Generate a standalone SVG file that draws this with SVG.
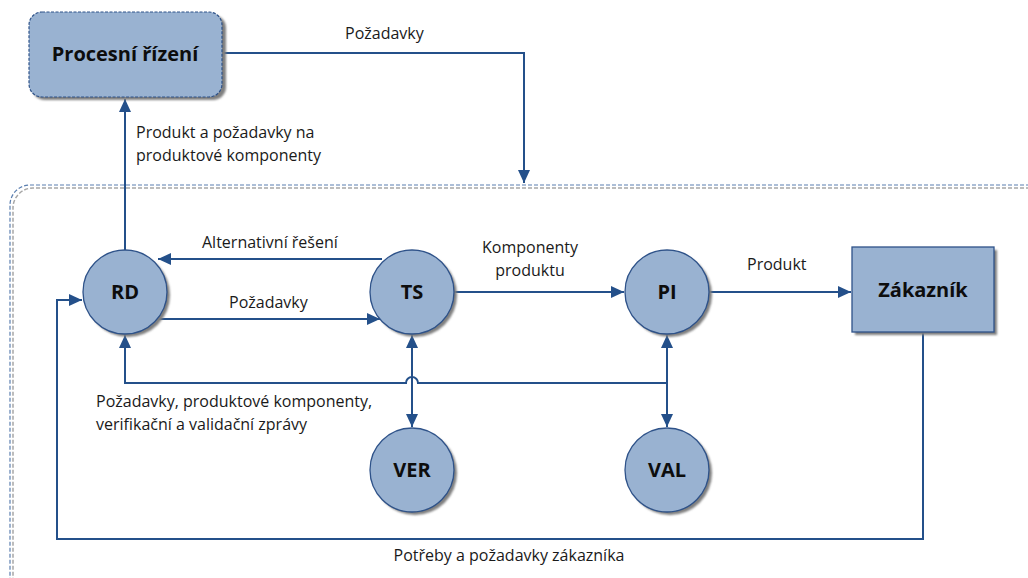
<svg xmlns="http://www.w3.org/2000/svg" width="1028" height="578" viewBox="0 0 1028 578">
<defs>
<marker id="arr" viewBox="0 0 10 10" refX="10" refY="5" markerWidth="13" markerHeight="12" markerUnits="userSpaceOnUse" orient="auto-start-reverse" preserveAspectRatio="none">
<path d="M0,0 L10,5 L0,10 z" fill="#24508a"/>
</marker>
<filter id="blur" x="-10%" y="-10%" width="120%" height="120%"><feGaussianBlur stdDeviation="1"/></filter>
</defs>
<style>
.node{fill:#99b2d1;stroke:#2e5289;stroke-width:1.3}
.shadow{fill:#7f7f7f;filter:url(#blur)}
.con{fill:none;stroke:#24508a;stroke-width:2}
.lbl{font-family:"Open Sans","Liberation Sans",sans-serif;font-size:16px;fill:#1a1a1a}
.title{font-family:"Open Sans","Liberation Sans",sans-serif;font-size:20px;font-weight:bold;fill:#0d0d0d;text-anchor:middle}
</style>
<rect width="1028" height="578" fill="#ffffff"/>
<g id="container">
<path d="M1030,188 H33 A20,20 0 0 0 13,208 V580" fill="none" stroke="#a6a6a6" stroke-width="1.5" stroke-dasharray="4,2"/>
<path d="M1030,185 H30 A20,20 0 0 0 10,205 V580" fill="none" stroke="#5b7fb0" stroke-width="1.2" stroke-dasharray="4,2"/>
</g>
<g id="connectors">
<path class="con" d="M125,250 V99" marker-end="url(#arr)"/>
<path class="con" d="M222,53 H524 V183" marker-end="url(#arr)"/>
<path class="con" d="M382,259 H158" marker-end="url(#arr)"/>
<path class="con" d="M157,319 H380" marker-end="url(#arr)"/>
<path class="con" d="M454,292 H624" marker-end="url(#arr)"/>
<path class="con" d="M709,292 H851" marker-end="url(#arr)"/>
<path class="con" d="M923,332 V539 H57 V300 H82" marker-end="url(#arr)"/>
<path class="con" d="M667,383 H418 A6,6 0 0 0 406,383 H125 V335" marker-end="url(#arr)"/>
<path class="con" d="M412,335 V427" marker-start="url(#arr)" marker-end="url(#arr)"/>
<path class="con" d="M667,335 V427" marker-start="url(#arr)" marker-end="url(#arr)"/>
</g>
<g id="labels">
<text class="lbl" x="345" y="39">Požadavky</text>
<text class="lbl" x="136" y="138">Produkt a požadavky na</text>
<text class="lbl" x="136" y="161">produktové komponenty</text>
<text class="lbl" x="202" y="248">Alternativní řešení</text>
<text class="lbl" x="229" y="308">Požadavky</text>
<text class="lbl" x="530" y="253" text-anchor="middle">Komponenty</text>
<text class="lbl" x="530" y="276" text-anchor="middle">produktu</text>
<text class="lbl" x="747" y="270">Produkt</text>
<text class="lbl" x="96" y="407">Požadavky, produktové komponenty,</text>
<text class="lbl" x="96" y="430">verifikační a validační zprávy</text>
<text class="lbl" x="509" y="561" text-anchor="middle">Potřeby a požadavky zákazníka</text>
</g>
<g id="procesni">
<rect class="shadow" x="32" y="15" width="194" height="85" rx="13"/>
<rect x="29" y="12" width="193" height="85" rx="13" fill="#99b2d1" stroke="#2e5289" stroke-width="1.2" stroke-dasharray="3,1.5"/>
<text class="title" x="125" y="61">Procesní řízení</text>
</g>
<g id="RD">
<circle class="shadow" cx="128" cy="295" r="42"/>
<circle class="node" cx="125" cy="292" r="42"/>
<text class="title" x="125" y="299">RD</text>
</g>
<g id="TS">
<circle class="shadow" cx="415" cy="295" r="42"/>
<circle class="node" cx="412" cy="292" r="42"/>
<text class="title" x="412" y="299">TS</text>
</g>
<g id="PI">
<circle class="shadow" cx="670" cy="295" r="42"/>
<circle class="node" cx="667" cy="292" r="42"/>
<text class="title" x="667" y="299">PI</text>
</g>
<g id="VER">
<circle class="shadow" cx="415" cy="473" r="42"/>
<circle class="node" cx="412" cy="470" r="42"/>
<text class="title" x="412" y="477">VER</text>
</g>
<g id="VAL">
<circle class="shadow" cx="670" cy="473" r="42"/>
<circle class="node" cx="667" cy="470" r="42"/>
<text class="title" x="667" y="477">VAL</text>
</g>
<g id="zakaznik">
<rect class="shadow" x="855" y="250" width="142" height="85"/>
<rect class="node" x="852" y="247" width="142" height="85"/>
<text class="title" x="923" y="297">Zákazník</text>
</g>
</svg>
